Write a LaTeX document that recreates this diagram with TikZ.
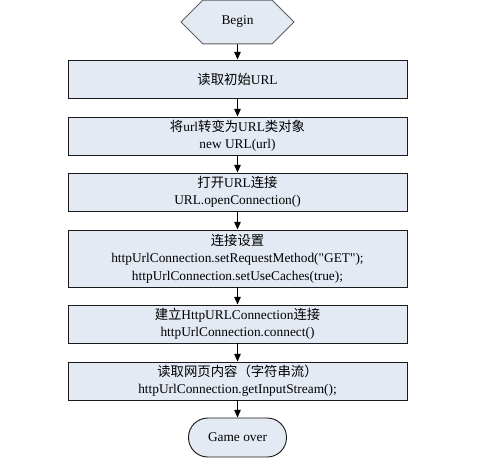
\documentclass[tikz,border=0pt]{standalone}
\usepackage{fontspec}
\setmainfont{Liberation Serif}
\newfontfamily\cjk{Noto Sans CJK SC}
\usepackage{xcolor}
\usetikzlibrary{shapes.misc, arrows.meta, positioning}
\definecolor{clrFill}{HTML}{E4EAF4}
\definecolor{clrLine}{HTML}{1A1A1A}

\begin{document}
\begin{tikzpicture}[
    step box/.style={rectangle, draw=clrLine, fill=clrFill, minimum width=10.17cm, minimum height=1.14cm, align=center, font=\fontsize{11.4}{14.8}\selectfont, line width=0.8pt, inner sep=0pt},
    startbox/.style={chamfered rectangle, chamfered rectangle xsep=0pt, chamfered rectangle ysep=0pt, chamfered rectangle angle=45, chamfered rectangle sep=0.57cm, draw=clrLine!70, fill=clrFill, minimum width=3.39cm, minimum height=1.14cm, inner sep=0pt, font=\fontsize{11.4}{14.8}\selectfont, line width=0.8pt},
    endbox/.style={rectangle, rounded corners=0.58cm, draw=clrLine, fill=clrFill, minimum width=2.94cm, minimum height=1.17cm, inner sep=0pt, font=\fontsize{11.4}{14.8}\selectfont, line width=0.8pt},
    arrow/.style={-{Triangle[length=6.5pt, width=5.5pt]}, line width=0.8pt, black},
]
\useasboundingbox (0, 0) rectangle (14.79, -14.19);

\node[startbox] (begin) at (7.125, -0.66) {Begin};

\node[step box] (readurl) at (7.125, -2.37) {{\cjk 读取初始}URL};
\node[step box] (newurl) at (7.125, -4.08) {{\cjk 将}url{\cjk 转变为}URL{\cjk 类对象}\\new URL(url)};
\node[step box] (openconn) at (7.125, -5.76) {{\cjk 打开}URL{\cjk 连接}\\URL.openConnection()};
\node[step box, minimum height=1.71cm] (settings) at (7.125, -7.755) {{\cjk 连接设置}\\httpUrlConnection.setRequestMethod(\textquotedbl GET\textquotedbl);\\httpUrlConnection.setUseCaches(true);};
\node[step box] (connect) at (7.125, -9.72) {{\cjk 建立}HttpURLConnection{\cjk 连接}\\httpUrlConnection.connect()};
\node[step box] (readpage) at (7.125, -11.43) {{\cjk 读取网页内容（字符串流）}\\httpUrlConnection.getInputStream();};

\node[endbox] (over) at (7.125, -13.125) {Game over};

\draw[arrow] (begin) -- (readurl);
\draw[arrow] (readurl) -- (newurl);
\draw[arrow] (newurl) -- (openconn);
\draw[arrow] (openconn) -- (settings);
\draw[arrow] (settings) -- (connect);
\draw[arrow] (connect) -- (readpage);
\draw[arrow] (readpage) -- (over);

\end{tikzpicture}
\end{document}
